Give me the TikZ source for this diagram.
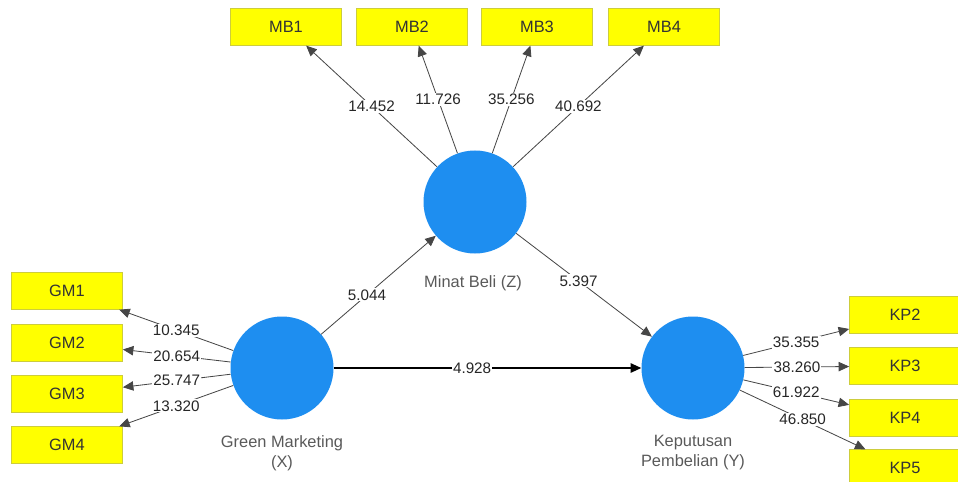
\documentclass[tikz,border=0pt]{standalone}
\usepackage{fontspec}
\setmainfont{Liberation Sans}
\usepackage{xcolor}
\usepackage{tikz}
\usetikzlibrary{arrows.meta}

\definecolor{lvblue}{RGB}{30,142,240}
\definecolor{indyellow}{RGB}{255,255,0}
\definecolor{indborder}{RGB}{205,205,60}
\definecolor{pathgray}{RGB}{70,70,70}

\tikzset{
  lv/.style={circle, fill=lvblue, minimum size=3.09cm, inner sep=0pt},
  ind/.style={rectangle, fill=indyellow, draw=indborder, line width=0.6pt,
    minimum width=3.33cm, minimum height=1.1cm, inner sep=0pt,
    font=\fontsize{14}{16}\selectfont, text=black!80},
  load/.style={draw=pathgray, line width=0.7pt, -{Triangle[length=9pt,width=8pt]}},
  inner/.style={draw=black, line width=1.1pt, -{Triangle[length=9pt,width=8pt]}},
  tval/.style={fill=white, inner sep=1pt, font=\fontsize{13}{15}\selectfont, text=black!85},
  lvname/.style={align=center, font=\fontsize{14}{17}\selectfont, text=black!65}
}

\begin{document}
\begin{tikzpicture}[x=0.03cm, y=-0.03cm]
    \clip (0,0) rectangle (958,482);

    % latent variables
    \node[lv] (Z) at (475,202) {};
    \node[lv] (X) at (282,368) {};
    \node[lv] (Y) at (693,368) {};
    \node[lvname] (Zname) at (473,283) {Minat Beli (Z)};
    \node[lvname] (Xname) at (282,453) {Green Marketing\\(X)};
    \node[lvname] (Yname) at (693,453) {Keputusan\\Pembelian (Y)};

    % indicators
    \node[ind] (MB1) at (286,27) {MB1};
    \node[ind] (MB2) at (412,27) {MB2};
    \node[ind] (MB3) at (537,27) {MB3};
    \node[ind] (MB4) at (664,27) {MB4};

    \node[ind] (GM1) at (67,291) {GM1};
    \node[ind] (GM2) at (67,343) {GM2};
    \node[ind] (GM3) at (67,394) {GM3};
    \node[ind] (GM4) at (67,445) {GM4};

    \node[ind] (KP2) at (905,315) {KP2};
    \node[ind] (KP3) at (905,366) {KP3};
    \node[ind] (KP4) at (905,418) {KP4};
    \node[ind] (KP5) at (905,468) {KP5};

    % outer loadings
    \draw[load] (Z) -- node[tval, pos=0.5] {14.452} (MB1);
    \draw[load] (Z) -- node[tval, pos=0.5] {11.726} (MB2);
    \draw[load] (Z) -- node[tval, pos=0.5] {35.256} (MB3);
    \draw[load] (Z) -- node[tval, pos=0.5] {40.692} (MB4);

    \draw[load] (X) -- node[tval, pos=0.5] {10.345} (GM1);
    \draw[load] (X) -- node[tval, pos=0.5] {20.654} (GM2);
    \draw[load] (X) -- node[tval, pos=0.5] {25.747} (GM3);
    \draw[load] (X) -- node[tval, pos=0.5] {13.320} (GM4);

    \draw[load] (Y) -- node[tval, pos=0.5] {35.355} (KP2);
    \draw[load] (Y) -- node[tval, pos=0.5] {38.260} (KP3);
    \draw[load] (Y) -- node[tval, pos=0.5] {61.922} (KP4);
    \draw[load] (Y) -- node[tval, pos=0.5] {46.850} (KP5);

    % structural paths
    \draw[load] (X) -- node[tval, pos=0.4] {5.044} (Z);
    \draw[load] (Z) -- node[tval, pos=0.46] {5.397} (Y);
    \draw[inner] (X) -- node[tval, pos=0.45] {4.928} (Y);
\end{tikzpicture}
\end{document}
